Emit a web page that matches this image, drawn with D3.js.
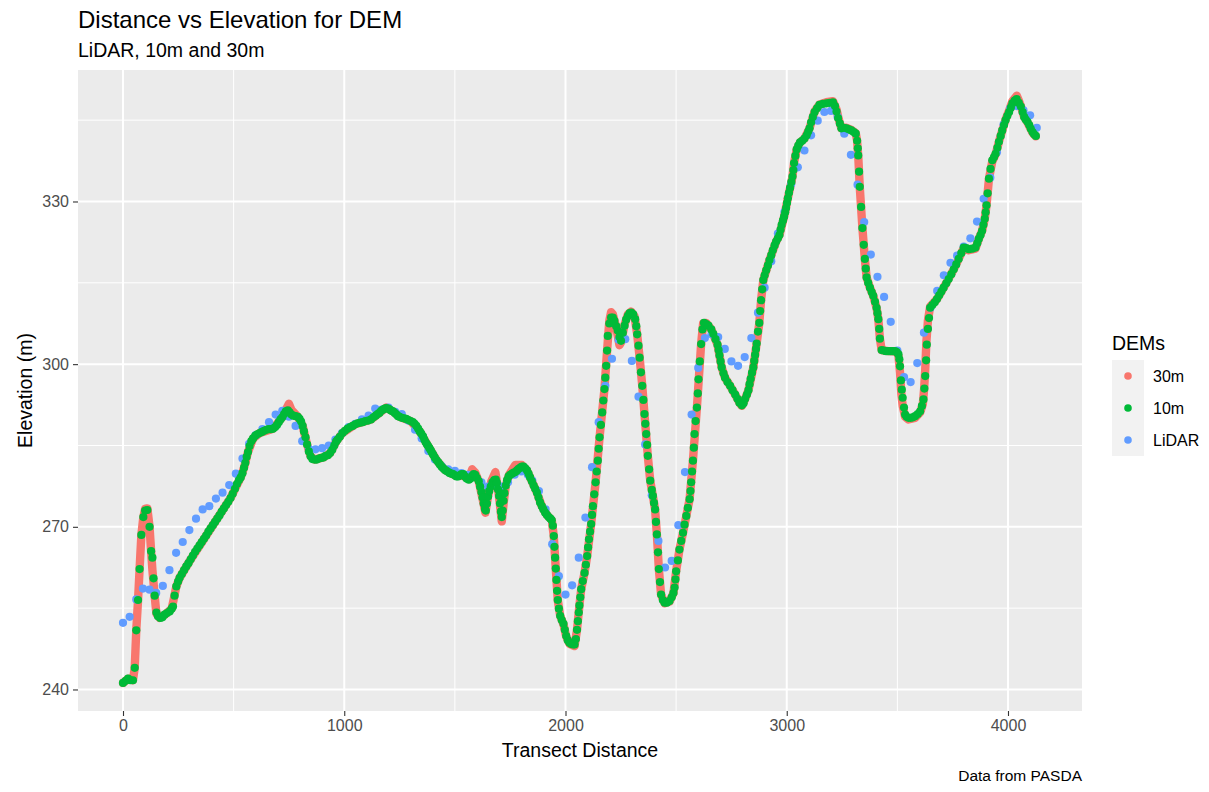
<!DOCTYPE html>
<html>
<head>
<meta charset="utf-8">
<script src="https://cdn.jsdelivr.net/npm/d3@7"></script>
<style>
    body { margin: 0; background: #fff; }
    text { font-family: "Liberation Sans", Arial, Helvetica, sans-serif; }
</style>
</head>
<body>
<div id="chart"></div>
<script>
// 30m DEM profile (distance, elevation) - sampled so densely it reads as a band
const dem30m = [
    [0,241.2],[23,242.0],[45,241.7],[53,244.0],[60,250.9],[68,256.5],[75,262.2],[83,268.5],[92,271.8],[100,273.3],[110,273.4],[120,270.0],[127,265.5],[133,262],[143,257.3],[151,254.0],[165,253.2],[190,253.8],[220,254.9],[230,256.8],[241,259.0],[256,260.6],[300,263.6],[400,269.9],[486,275.3],[506,277.0],[532,279.1],[547,280.9],[565,283.8],[588,286.3],[618,287.3],[678,288.1],[712,289.8],[736,291.6],[750,292.7],[762,291.5],[790,290.3],[812,288.6],[832,285.2],[848,283.0],[866,282.4],[906,282.8],[936,283.6],[963,285.7],[992,287.3],
    [1050,288.9],[1121,289.8],[1159,291.0],[1190,292.0],[1220,291.3],[1250,290.3],[1300,289.5],[1341,287.6],[1379,284.9],[1417,282.3],[1455,280.5],[1500,279.5],[1522,279.5],[1545,279.3],[1563,278.8],[1578,280.6],[1592,280.0],[1608,278.4],[1625,275.2],[1638,272.6],[1650,275.6],[1665,278.4],[1683,280.1],[1695,277.0],[1704,274.0],[1712,271.0],[1720,274.2],[1730,277.6],[1745,279.6],[1773,281.4],[1803,281.4],[1826,280.4],[1848,278.4],[1871,276.3],[1893,273.8],[1916,272.2],[1938,271.2],[1947,268.3],[1956,262.3],[1965,256.5],[1976,253.6],[1991,252.0],
    [2003,249.8],[2018,248.4],[2041,248.0],[2052,251.0],[2063,255.5],[2071,258.5],[2086,261.5],[2098,264.6],[2116,270.5],[2136,278.2],[2154,286.5],[2176,295.4],[2188,302.5],[2198,308.0],[2206,309.6],[2214,309.2],[2229,306.8],[2244,303.5],[2251,304.0],[2267,307.3],[2282,309.2],[2297,309.7],[2312,308.8],[2324,305.5],[2335,301.2],[2347,296.0],[2357,290.8],[2372,283.1],[2383,278.5],[2395,275.7],[2405,273.2],[2413,268.6],[2422,262.2],[2432,257.5],[2448,255.9],[2470,256.2],[2488,257.8],[2500,261.8],[2515,265.8],[2531,268.9],[2546,272.0],[2561,275.1],[2576,282.2],[2594,292.0],[2613,303.7],[2622,307.5],[2636,307.6],[2659,306.4],[2687,303.6],[2706,299.4],[2721,297.5],[2744,296.0],[2767,294.4],[2786,292.9],[2797,292.3],[2812,293.6],[2827,295.2],[2849,299.4],[2864,303.8],[2876,307.6],[2884,311.8],[2894,315.5],[2922,319.2],[2952,322.6],[2967,323.8],[2988,327.2],
    [3005,330.6],[3026,334.6],[3033,337.1],[3045,339.6],[3060,340.9],[3080,341.6],[3103,343.5],[3126,346.6],[3148,347.9],[3179,348.3],[3209,348.5],[3225,347.0],[3235,345.2],[3247,343.5],[3270,343.6],[3292,343.2],[3312,342.6],[3318,341.2],[3323,338.5],[3330,332.7],[3342,325.1],[3353,319.4],[3361,316.0],[3376,314.1],[3391,312.6],[3406,310.4],[3414,308.3],[3421,304.7],[3429,302.6],[3459,302.4],[3497,302.3],[3505,301.5],[3512,298.5],[3518,294.5],[3524,292.3],[3535,290.3],[3550,289.8],[3580,290.1],[3603,291.1],[3615,292.6],[3621,295.5],[3626,299.0],[3631,304.0],[3638,308.0],[3648,310.6],[3679,312.0],[3709,314.1],[3755,317.5],[3800,321.4],[3823,321.0],[3853,321.3],[3868,323.1],[3883,324.6],[3895,326.8],[3903,329.3],[3914,334.2],[3929,337.4],[3944,338.7],[3959,341.0],[3974,343.1],[3989,345.1],
    [4005,346.8],[4020,348.5],[4040,349.5],[4050,348.5],[4058,347.6],[4073,345.6],[4088,344.6],[4111,342.7],[4126,342.0]
];

// 10m DEM points (distance, elevation)
const dem10m = [
    [0,241.2],[12,241.6],[23,242.0],[34,241.7],[45,241.7],[53,244.0],[60,250.9],[68,256.5],[75,262.2],[83,268.5],[92,271.8],[100,273.0],[110,273.1],[120,270.0],[127,265.5],[133,264.3],[138,260.5],[143,257.3],[151,254.2],[158,253.5],[168,253.2],[178,253.3],[188,253.8],[199,254.1],[211,254.4],[220,254.9],[226,255.3],[233,257.3],[241,259.0],[249,259.9],[256,260.6],[266,261.3],[276,262.0],[286,262.7],[296,263.3],
    [306,264.0],[316,264.7],[326,265.4],[336,266.0],[346,266.6],[356,267.2],[366,267.8],[376,268.4],[386,269.1],[396,269.7],[406,270.3],[416,270.9],[426,271.5],[436,272.1],[446,272.8],[456,273.4],[466,274.0],[476,274.6],[486,275.3],[496,276.1],[506,277.0],[515,277.9],[524,278.6],[532,279.1],[540,279.9],[547,280.9],[553,281.8],[559,282.9],[565,283.8],[572,284.9],[580,285.8],[588,286.3],[598,286.8],
    [608,287.1],[618,287.3],[628,287.5],[638,287.7],[648,287.9],[658,288.0],[668,288.0],[678,288.1],[688,288.4],[696,288.8],[704,289.3],[712,289.8],[720,290.2],[728,290.8],[736,291.3],[745,291.5],[753,291.1],[761,290.7],[770,290.5],[780,290.4],[790,290.3],[798,289.9],[805,289.4],[812,288.6],[818,287.6],[825,286.5],[832,285.2],[840,283.9],[848,283.0],[856,282.5],[866,282.4],[876,282.4],[886,282.6],[896,282.7],
    [906,282.8],[916,283.1],[926,283.2],[936,283.6],[946,284.2],[955,285.0],[963,285.7],[970,286.1],[980,286.6],[992,287.3],[1003,287.7],[1015,288.1],[1027,288.4],[1038,288.6],[1050,288.9],[1061,289.1],[1072,289.2],[1083,289.3],[1095,289.5],[1108,289.6],[1121,289.8],[1132,290.2],[1142,290.5],[1151,290.8],[1159,291.0],[1167,291.4],[1175,291.6],[1183,291.8],[1190,291.9],[1198,291.8],
    [1206,291.6],[1213,291.4],[1220,291.3],[1228,291.0],[1236,290.7],[1243,290.4],[1250,290.3],[1260,290.1],[1270,290.0],[1280,289.9],[1290,289.7],[1300,289.5],[1310,289.3],[1318,289.0],[1326,288.6],[1334,288.1],[1341,287.6],[1348,287.2],[1356,286.7],[1362,286.1],[1368,285.6],[1374,285.2],[1379,284.9],[1385,284.5],[1391,284.1],[1396,283.7],
    [1402,283.3],[1409,282.8],[1417,282.3],[1425,281.9],[1432,281.5],[1440,281.1],[1447,280.8],[1455,280.5],[1462,280.3],[1470,280.1],[1477,279.9],[1485,279.8],[1492,279.7],[1500,279.5],[1507,279.3],[1515,279.3],[1522,279.5],[1530,279.7],[1538,279.7],[1545,279.3],[1553,278.9],[1563,278.7],[1571,278.9],[1578,279.4],[1585,279.7],[1592,279.6],
    [1600,279.0],[1608,278.4],[1614,277.4],[1620,276.4],[1625,275.4],[1630,274.3],[1636,273.3],[1640,273.0],[1645,274.3],[1650,275.6],[1655,276.6],[1662,277.4],[1670,278.2],[1678,278.6],[1685,278.7],[1690,278.1],[1695,276.9],[1700,275.7],[1704,274.3],[1708,272.8],[1712,271.8],[1716,273.0],[1720,274.8],[1724,276.2],[1730,277.6],[1736,278.6],[1743,279.3],[1750,279.6],[1758,279.8],[1766,280.0],[1773,280.1],[1781,280.4],[1788,280.7],[1796,280.9],
    [1803,281.1],[1810,281.1],[1818,280.8],[1826,280.4],[1833,279.8],[1840,279.1],[1848,278.4],[1856,277.6],[1863,277.0],[1871,276.3],[1878,275.4],[1885,274.5],[1893,273.8],[1900,273.2],[1908,272.6],[1916,272.2],[1924,271.8],[1932,271.5],[1938,271.2],[1943,270.2],[1947,268.3],[1950,266.3],[1953,264.3],[1956,262.3],[1959,260.2],[1962,258.2],[1965,256.5],[1970,254.9],[1976,253.6],[1983,252.8],[1991,252.1],[1997,251.0],
    [2003,249.9],[2010,249.1],[2018,248.6],[2026,248.4],[2034,248.3],[2041,248.3],[2047,249.3],[2052,251.0],[2056,252.6],[2060,254.2],[2063,255.5],[2067,257.0],[2071,258.5],[2078,260.0],[2086,261.5],[2092,263.0],[2098,264.6],[2102,266.2],[2106,267.7],[2111,269.1],[2116,270.5],[2120,272.2],[2124,273.8],[2130,276.0],[2136,278.2],[2141,280.2],[2146,282.2],[2150,284.4],[2154,286.5],[2160,288.8],[2166,291.1],[2171,293.3],[2176,295.4],[2180,297.5],[2184,299.7],[2188,302.5],[2191,305.2],[2198,307.5],
    [2206,308.6],[2214,308.6],[2221,308.0],[2229,307.0],[2236,306.2],[2244,305.0],[2251,304.3],[2259,305.8],[2267,307.1],[2274,308.2],[2282,308.9],[2290,309.4],[2297,309.5],[2306,309.2],[2315,308.3],[2320,307.0],[2324,305.5],[2330,303.4],[2335,301.2],[2341,298.5],[2347,296.0],[2352,293.4],[2357,290.8],[2361,289.0],[2365,287.1],[2369,285.1],[2372,283.1],[2378,280.6],[2383,278.5],[2390,276.8],[2395,275.7],[2400,274.4],
    [2405,273.2],[2409,270.9],[2413,268.6],[2418,265.3],[2422,262.2],[2427,259.8],[2432,257.5],[2440,256.5],[2448,256.0],[2458,256.0],[2470,256.3],[2480,257.0],[2488,257.8],[2493,258.8],[2497,260.3],[2500,261.8],[2508,263.8],[2515,265.8],[2523,267.4],[2531,268.9],[2538,270.4],[2546,272.0],[2553,273.5],[2561,275.1],[2565,276.6],[2568,278.2],[2572,280.2],[2576,282.2],[2580,284.6],[2583,287.1],[2588,289.5],[2594,292.0],[2598,294.6],
    [2601,297.2],[2607,300.5],[2613,303.7],[2619,306.4],[2626,307.6],[2636,307.4],[2646,307.1],[2659,306.4],[2668,305.6],[2678,304.6],[2687,303.6],[2692,302.6],[2696,301.6],[2701,300.5],[2706,299.4],[2714,298.3],[2721,297.5],[2732,296.7],[2744,296.0],[2755,295.2],[2767,294.4],[2777,293.6],[2786,292.9],[2797,292.4],
    [2805,292.8],[2812,293.6],[2820,294.4],[2827,295.2],[2832,296.3],[2837,297.3],[2843,298.4],[2849,299.4],[2853,300.6],[2857,301.7],[2861,302.8],[2864,303.8],[2870,306.0],[2876,307.6],[2880,309.8],[2884,311.8],[2889,313.8],[2894,315.5],[2900,316.4],[2907,317.3],[2915,318.2],[2922,319.2],[2930,320.1],[2937,321.0],[2945,321.9],[2952,322.6],[2960,323.2],[2967,323.8],[2972,324.8],[2977,325.7],[2983,326.5],[2988,327.2],[2993,328.0],[2997,328.8],
    [3001,329.7],[3005,330.6],[3010,331.6],[3015,332.5],[3021,333.6],[3026,334.6],[3030,335.8],[3033,337.1],[3039,338.4],[3045,339.6],[3052,340.3],[3060,340.9],[3070,341.2],[3080,341.6],[3090,342.2],[3097,342.9],[3103,343.5],[3110,344.6],[3118,345.6],[3126,346.5],[3137,347.2],[3148,347.8],[3163,348.0],[3179,348.1],[3194,348.2],
    [3209,348.3],[3218,347.6],[3225,346.6],[3232,345.4],[3240,344.4],[3247,343.5],[3258,343.6],[3270,343.5],[3281,343.3],[3292,343.1],[3303,342.8],[3312,342.5],[3318,341.2],[3321,339.8],[3323,338.5],[3327,335.5],[3330,332.7],[3336,329.0],[3342,325.1],[3348,322.0],[3353,319.4],[3357,317.6],[3361,316.0],[3368,315.0],[3376,314.1],[3384,313.3],[3391,312.6],[3399,311.5],
    [3406,310.4],[3410,309.4],[3414,308.3],[3418,306.5],[3421,304.7],[3429,302.6],[3439,302.5],[3449,302.4],[3459,302.4],[3469,302.4],[3479,302.4],[3489,302.4],[3497,302.2],[3505,301.8],[3509,300.9],[3512,299.6],[3516,297.0],[3520,295.3],[3524,293.8],[3530,292.0],[3535,290.7],[3542,290.3],[3550,290.1],[3560,290.1],[3570,290.2],[3580,290.4],[3592,290.8],
    [3603,291.3],[3611,292.3],[3618,293.5],[3622,295.5],[3626,297.8],[3630,300.7],[3633,303.6],[3638,306.5],[3643,308.5],[3648,310.4],[3658,310.9],[3669,311.4],[3679,312.0],[3689,312.7],[3699,313.4],[3709,314.1],[3721,314.9],[3732,315.7],[3744,316.6],[3755,317.5],[3766,318.4],[3777,319.4],[3789,320.5],
    [3800,321.5],[3812,321.4],[3823,321.2],[3838,321.3],[3853,321.5],[3861,322.3],[3868,323.1],[3876,323.8],[3883,324.6],[3889,325.7],[3895,326.8],[3899,328.0],[3903,329.3],[3908,331.5],[3914,334.2],[3921,336.0],[3929,337.6],[3937,338.2],[3944,338.8],[3952,339.9],[3959,341.0],[3967,342.1],[3974,343.1],[3982,344.1],[3989,345.0],[3997,345.8],
    [4005,346.5],[4013,347.3],[4020,348.1],[4030,348.6],[4039,348.9],[4049,348.2],[4058,347.5],[4066,346.5],[4073,345.6],[4080,345.1],[4088,344.7],[4096,344.1],[4103,343.4],[4111,342.8],[4118,342.4],[4126,342.1]
];

// LiDAR points (distance, elevation)
const lidar = [
    [0,252.3],[30,253.4],[60,256.6],[90,258.6],[120,258.4],[150,257.8],[180,259.1],[210,262.0],[240,265.2],[270,267.2],[300,269.4],[330,271.5],[360,273.2],[390,273.8],[420,275.2],[450,276.3],[480,277.7],[510,279.8],[540,282.6],[570,285.3],
    [600,286.9],[630,288.0],[660,289.3],[690,290.7],[720,291.4],[750,290.3],[780,288.6],[810,285.8],[840,284.4],[870,284.3],[900,284.5],[930,285.0],[960,286.1],[990,287.3],
    [1020,288.4],[1050,289.0],[1080,289.8],[1110,290.5],[1140,291.8],[1170,291.6],[1200,292.0],[1230,291.2],[1260,290.8],[1290,289.6],[1320,287.9],[1350,286.3],[1380,284.0],[1410,282.4],[1440,281.2],[1470,280.6],[1500,280.3],[1530,279.9],[1560,279.6],[1590,279.2],
    [1620,278.2],[1650,277.4],[1680,277.8],[1710,277.4],[1740,278.2],[1770,279.6],[1800,280.2],[1830,279.6],[1850,278.5],[1880,276.6],[1910,273.2],[1940,266.8],[1970,260.9],
    [2000,257.5],[2030,259.2],[2060,264.3],[2090,271.7],[2120,281.0],[2150,289.3],[2180,296.0],[2210,301.0],[2240,304.5],[2270,304.6],[2300,300.6],[2330,294.0],[2360,285.2],[2390,275.8],[2420,267.4],[2450,262.5],[2480,263.7],[2510,270.3],[2540,280.1],[2570,290.7],
    [2600,299.3],[2630,304.8],[2660,305.5],[2690,305.0],[2720,302.8],[2750,300.5],[2780,299.7],[2810,301.3],[2840,304.8],[2870,309.5],[2900,314.1],[2930,319.0],[2960,324.1],[2990,328.1],
    [3020,333.2],[3050,336.3],[3080,339.4],[3110,342.2],[3140,344.9],[3170,346.5],[3200,346.7],[3230,345.6],[3260,342.5],[3290,338.6],[3320,333.1],[3350,326.2],[3380,320.2],[3410,316.1],[3440,312.4],[3470,307.8],[3500,302.5],[3530,297.6],[3560,296.7],[3590,300.2],
    [3620,305.8],[3650,310.4],[3680,313.5],[3710,316.4],[3740,318.7],[3770,320.0],[3800,321.7],[3830,323.2],[3860,326.3],[3890,330.5],[3920,334.4],[3950,339.1],[3980,344.2],
    [4010,347.2],[4040,347.6],[4070,346.8],[4100,345.9],[4130,343.6]
];

const demNames = ["30m", "10m", "LiDAR"];
const xTicks = [0, 1000, 2000, 3000, 4000];
const xMinor = [500, 1500, 2500, 3500];
const yTicks = [240, 270, 300, 330];
const yMinor = [255, 285, 315, 345];

const width = 1209;
const height = 792;
const panel = { left: 78, right: 1082, top: 70, bottom: 711 };

const svg = d3.select("#chart").append("svg")
    .attr("width", width)
    .attr("height", height);

const x = d3.scaleLinear().domain([-203.4, 4334.5]).range([panel.left, panel.right]);
const y = d3.scaleLinear().domain([236.03, 354.25]).range([panel.bottom, panel.top]);
const color = d3.scaleOrdinal().domain(demNames).range(["#F8766D", "#00BA38", "#619CFF"]);

// panel background and grid
svg.append("rect")
    .attr("x", panel.left).attr("y", panel.top)
    .attr("width", panel.right - panel.left)
    .attr("height", panel.bottom - panel.top)
    .attr("fill", "#EBEBEB");

const grid = svg.append("g").attr("stroke", "#fff");
grid.selectAll(".xminor").data(xMinor).join("line")
    .attr("x1", d => x(d)).attr("x2", d => x(d))
    .attr("y1", panel.top).attr("y2", panel.bottom)
    .attr("stroke-width", 1);
grid.selectAll(".yminor").data(yMinor).join("line")
    .attr("y1", d => y(d)).attr("y2", d => y(d))
    .attr("x1", panel.left).attr("x2", panel.right)
    .attr("stroke-width", 1);
grid.selectAll(".xmajor").data(xTicks).join("line")
    .attr("x1", d => x(d)).attr("x2", d => x(d))
    .attr("y1", panel.top).attr("y2", panel.bottom)
    .attr("stroke-width", 2);
grid.selectAll(".ymajor").data(yTicks).join("line")
    .attr("y1", d => y(d)).attr("y2", d => y(d))
    .attr("x1", panel.left).attr("x2", panel.right)
    .attr("stroke-width", 2);

// 30m series: dense points drawn as a thick round band
const line = d3.line().x(d => x(d[0])).y(d => y(d[1]));
svg.append("path")
    .datum(dem30m)
    .attr("d", line)
    .attr("fill", "none")
    .attr("stroke", color("30m"))
    .attr("stroke-width", 8.4)
    .attr("stroke-linecap", "round")
    .attr("stroke-linejoin", "round");

const r = 4.1;
svg.append("g").selectAll("circle").data(lidar).join("circle")
    .attr("cx", d => x(d[0])).attr("cy", d => y(d[1])).attr("r", r)
    .attr("fill", color("LiDAR"));

svg.append("g").selectAll("circle").data(dem10m).join("circle")
    .attr("cx", d => x(d[0])).attr("cy", d => y(d[1])).attr("r", r)
    .attr("fill", color("10m"));

// axes
const xAxis = svg.append("g")
    .attr("transform", `translate(0,${panel.bottom})`)
    .call(d3.axisBottom(x).tickValues(xTicks).tickSize(5).tickPadding(4).tickFormat(d3.format("d")));
const yAxis = svg.append("g")
    .attr("transform", `translate(${panel.left},0)`)
    .call(d3.axisLeft(y).tickValues(yTicks).tickSize(5).tickPadding(4));

[xAxis, yAxis].forEach(a => {
    a.select(".domain").remove();
    a.selectAll(".tick line").attr("stroke", "#333").attr("stroke-width", 1.1);
    a.selectAll(".tick text")
        .attr("fill", "#4D4D4D")
        .style("font-size", "16px")
        .style("font-family", "'Liberation Sans', Arial, sans-serif");
});

// titles
svg.append("text").attr("x", panel.left).attr("y", 28)
    .style("font-size", "24px").attr("fill", "#000")
    .text("Distance vs Elevation for DEM");
svg.append("text").attr("x", panel.left).attr("y", 57)
    .style("font-size", "19.5px").attr("fill", "#000")
    .text("LiDAR, 10m and 30m");

svg.append("text")
    .attr("x", (panel.left + panel.right) / 2).attr("y", 757)
    .attr("text-anchor", "middle")
    .style("font-size", "19.5px")
    .text("Transect Distance");

svg.append("text")
    .attr("transform", `translate(32,${(panel.top + panel.bottom) / 2}) rotate(-90)`)
    .attr("text-anchor", "middle")
    .style("font-size", "19.5px")
    .text("Elevation (m)");

svg.append("text")
    .attr("x", panel.right).attr("y", 781)
    .attr("text-anchor", "end")
    .style("font-size", "15.5px")
    .text("Data from PASDA");

// legend
const legend = svg.append("g").attr("transform", "translate(1112,360)");
legend.append("text").attr("x", 0).attr("y", -10)
    .style("font-size", "19.5px")
    .text("DEMs");
const key = legend.selectAll("g").data(demNames).join("g")
    .attr("transform", (d, i) => `translate(0,${i * 32})`);
key.append("rect")
    .attr("width", 32).attr("height", 32)
    .attr("fill", "#F2F2F2");
key.append("circle")
    .attr("cx", 16).attr("cy", 16).attr("r", 3.8)
    .attr("fill", d => color(d));
key.append("text")
    .attr("x", 41).attr("y", 21.5)
    .style("font-size", "16px")
    .text(d => d);
</script>
</body>
</html>
